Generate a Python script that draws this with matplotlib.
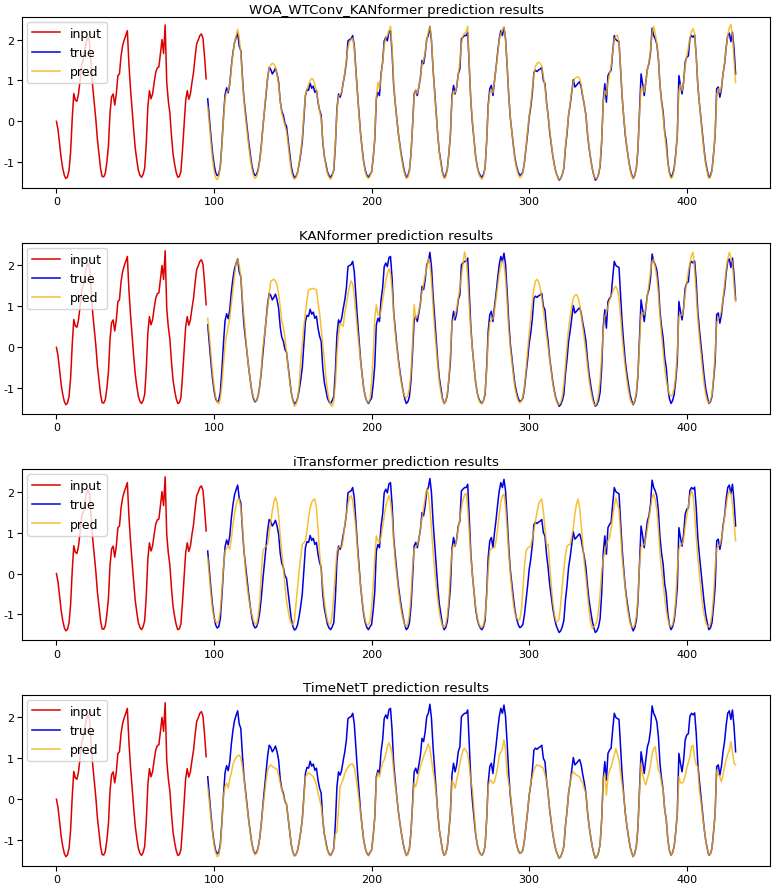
import numpy as np
import matplotlib
matplotlib.use("Agg")
import matplotlib.pyplot as plt

plt.rcParams["axes.unicode_minus"] = False

# values, one row per 24-step cycle
input_vals = [
    0.00, -0.20, -0.55, -0.90, -1.15, -1.32, -1.40, -1.36, -1.20, -0.75, 0.05, 0.68, 0.52, 0.49, 0.67, 1.00, 1.40, 1.50, 1.75, 1.95, 2.05, 1.95, 1.40, 0.85,
    0.45, 0.05, -0.45, -0.80, -1.15, -1.35, -1.36, -1.28, -1.00, -0.60, 0.20, 0.60, 0.67, 0.40, 0.67, 1.12, 1.16, 1.60, 1.85, 1.99, 2.10, 2.22, 1.40, 0.80,
    0.30, -0.20, -0.65, -0.95, -1.20, -1.32, -1.37, -1.30, -1.15, -0.55, 0.35, 0.75, 0.55, 0.67, 0.95, 1.20, 1.31, 1.33, 1.66, 2.00, 1.66, 2.36, 0.95, 0.50,
    0.20, -0.35, -0.80, -1.05, -1.25, -1.37, -1.35, -1.23, -0.70, -0.10, 0.50, 0.75, 0.54, 0.67, 0.95, 1.20, 1.58, 1.90, 1.99, 2.10, 2.14, 2.03, 1.58, 1.04,
]

true_vals = [
    0.55, 0.10, -0.35, -0.75, -1.05, -1.25, -1.33, -1.30, -1.10, -0.55, 0.10, 0.65, 0.82, 0.70, 0.92, 1.35, 1.68, 1.92, 2.05, 2.16, 1.84, 1.73, 1.10, 0.55,
    0.20, -0.15, -0.50, -0.80, -1.07, -1.25, -1.33, -1.30, -1.18, -0.95, -0.60, -0.15, 0.25, 0.65, 1.05, 1.32, 1.27, 1.16, 1.22, 1.30, 1.16, 0.96, 0.50, 0.25,
    0.15, -0.05, -0.12, -0.45, -0.80, -1.10, -1.28, -1.38, -1.35, -1.25, -1.05, -0.80, -0.50, 0.05, 0.63, 0.78, 0.76, 0.93, 0.81, 0.86, 0.71, 0.76, 0.47, 0.27,
    0.15, -0.50, -0.85, -1.05, -1.24, -1.33, -1.37, -1.30, -1.20, -0.60, 0.30, 0.67, 0.59, 0.71, 0.95, 1.16, 1.45, 1.97, 2.00, 2.02, 2.10, 1.85, 1.28, 0.71,
    0.20, -0.30, -0.67, -1.00, -1.20, -1.32, -1.37, -1.30, -1.24, -0.90, -0.45, 0.55, 0.71, 0.63, 1.16, 1.45, 1.97, 2.06, 1.97, 2.19, 2.22, 1.69, 0.88, 0.45,
    0.06, -0.30, -0.59, -0.85, -1.07, -1.25, -1.37, -1.33, -1.20, -0.80, -0.10, 0.67, 0.76, 0.63, 0.84, 1.08, 1.49, 1.41, 1.65, 2.02, 2.10, 2.32, 1.97, 1.28,
    0.75, 0.20, -0.34, -0.75, -1.00, -1.25, -1.37, -1.32, -1.18, -0.80, -0.34, 0.60, 0.88, 0.67, 0.84, 1.16, 1.28, 2.02, 2.06, 2.10, 2.10, 2.18, 1.30, 0.47,
    -0.05, -0.45, -0.85, -1.10, -1.25, -1.33, -1.37, -1.30, -1.15, -0.50, 0.40, 0.80, 0.88, 0.63, 1.00, 1.32, 1.69, 2.02, 2.22, 2.10, 2.30, 2.02, 1.37, 0.65,
    0.10, -0.25, -0.60, -0.91, -1.10, -1.24, -1.32, -1.30, -1.24, -1.00, -0.65, -0.30, 0.10, 0.35, 0.70, 1.20, 1.25, 1.22, 1.26, 1.28, 1.32, 1.00, 0.92, 0.47,
    0.15, -0.26, -0.55, -0.85, -1.07, -1.25, -1.35, -1.44, -1.40, -1.30, -1.15, -0.65, -0.30, 0.15, 0.40, 0.71, 1.02, 0.84, 0.88, 0.93, 0.97, 0.84, 0.60, 0.40,
    0.15, -0.30, -0.65, -0.91, -1.15, -1.32, -1.44, -1.40, -1.30, -1.10, -0.50, 0.50, 0.92, 0.47, 1.12, 1.20, 1.25, 1.70, 2.10, 2.00, 1.97, 1.95, 1.28, 0.60,
    0.10, -0.34, -0.65, -0.91, -1.15, -1.30, -1.40, -1.32, -1.15, -0.70, 0.20, 1.16, 0.92, 0.63, 0.96, 1.28, 1.41, 1.69, 2.28, 2.10, 2.02, 1.89, 1.53, 0.88,
    0.50, 0.23, -0.25, -0.50, -0.99, -1.25, -1.37, -1.30, -1.15, -0.80, -0.34, 1.12, 0.88, 0.67, 0.96, 1.45, 1.57, 1.60, 2.03, 2.10, 2.06, 2.11, 1.61, 0.88,
    0.45, 0.06, -0.35, -0.70, -1.00, -1.20, -1.37, -1.33, -1.20, -0.80, -0.34, 0.80, 0.84, 0.59, 0.80, 1.16, 1.41, 1.81, 2.10, 2.16, 1.95, 2.18, 1.77, 1.16,
]

woa_pred = [
    0.35, -0.05, -0.50, -0.90, -1.20, -1.38, -1.43, -1.36, -1.12, -0.60, 0.05, 0.55, 0.72, 0.75, 0.92, 1.30, 1.65, 1.92, 2.10, 2.25, 2.05, 1.65, 1.05, 0.50,
    0.10, -0.25, -0.60, -0.90, -1.15, -1.32, -1.40, -1.36, -1.22, -0.98, -0.62, -0.15, 0.28, 0.68, 1.05, 1.30, 1.38, 1.42, 1.40, 1.32, 1.15, 0.90, 0.50, 0.20,
    0.05, -0.10, -0.25, -0.55, -0.90, -1.20, -1.36, -1.42, -1.38, -1.25, -1.02, -0.75, -0.40, 0.15, 0.62, 0.80, 0.90, 1.00, 1.05, 1.02, 0.90, 0.75, 0.50, 0.25,
    0.05, -0.45, -0.85, -1.10, -1.28, -1.38, -1.42, -1.35, -1.15, -0.55, 0.25, 0.62, 0.65, 0.72, 0.95, 1.20, 1.50, 1.80, 1.95, 2.00, 2.04, 1.80, 1.25, 0.70,
    0.15, -0.30, -0.70, -1.02, -1.25, -1.36, -1.40, -1.35, -1.22, -0.90, -0.40, 0.60, 0.95, 0.80, 1.10, 1.45, 1.85, 2.05, 2.10, 2.22, 2.33, 1.80, 0.95, 0.45,
    0.05, -0.30, -0.62, -0.90, -1.12, -1.30, -1.40, -1.38, -1.22, -0.80, -0.10, 0.62, 0.75, 0.68, 0.85, 1.10, 1.40, 1.50, 1.70, 2.00, 2.20, 2.33, 2.00, 1.30,
    0.70, 0.15, -0.35, -0.78, -1.05, -1.28, -1.40, -1.38, -1.20, -0.80, -0.30, 0.55, 0.75, 0.70, 0.85, 1.15, 1.45, 1.90, 2.10, 2.15, 2.20, 2.33, 1.35, 0.50,
    0.00, -0.45, -0.85, -1.12, -1.28, -1.38, -1.42, -1.35, -1.15, -0.50, 0.35, 0.70, 0.78, 0.70, 0.98, 1.30, 1.65, 1.98, 2.15, 2.25, 2.31, 2.00, 1.40, 0.65,
    0.10, -0.25, -0.62, -0.95, -1.15, -1.30, -1.38, -1.36, -1.25, -1.00, -0.62, -0.25, 0.15, 0.42, 0.80, 1.15, 1.35, 1.42, 1.45, 1.42, 1.35, 1.10, 0.85, 0.45,
    0.12, -0.22, -0.55, -0.85, -1.08, -1.25, -1.36, -1.42, -1.40, -1.30, -1.12, -0.65, -0.25, 0.15, 0.45, 0.75, 0.95, 1.05, 1.08, 1.09, 1.05, 0.90, 0.62, 0.40,
    0.15, -0.28, -0.62, -0.90, -1.15, -1.32, -1.40, -1.40, -1.30, -1.05, -0.45, 0.45, 0.75, 0.65, 0.95, 1.15, 1.35, 1.70, 2.00, 2.08, 2.11, 1.95, 1.30, 0.60,
    0.12, -0.30, -0.65, -0.92, -1.18, -1.33, -1.40, -1.35, -1.15, -0.70, 0.15, 0.80, 0.85, 0.72, 0.95, 1.25, 1.45, 1.75, 2.15, 2.33, 2.15, 1.90, 1.55, 0.90,
    0.45, 0.15, -0.30, -0.65, -1.02, -1.28, -1.40, -1.36, -1.20, -0.85, -0.30, 0.75, 0.90, 0.75, 0.95, 1.35, 1.60, 1.80, 2.05, 2.20, 2.27, 2.15, 1.60, 0.90,
    0.45, 0.05, -0.38, -0.75, -1.05, -1.25, -1.40, -1.38, -1.22, -0.82, -0.30, 0.65, 0.80, 0.70, 0.85, 1.15, 1.45, 1.80, 2.10, 2.30, 2.37, 2.10, 1.50, 0.95,
]

kanformer_pred = [
    0.71, 0.30, -0.15, -0.60, -0.95, -1.20, -1.33, -1.38, -1.25, -0.90, -0.40, 0.05, 0.30, 0.50, 0.72, 1.05, 1.40, 1.75, 2.05, 2.15, 2.00, 1.74, 1.20, 0.75,
    0.30, -0.15, -0.50, -0.80, -1.05, -1.22, -1.30, -1.31, -1.20, -0.95, -0.55, 0.00, 0.30, 0.65, 0.95, 1.30, 1.62, 1.64, 1.66, 1.62, 1.53, 1.30, 1.00, 0.65,
    0.50, 0.25, -0.10, -0.50, -0.82, -1.10, -1.30, -1.44, -1.40, -1.25, -0.95, -0.32, 0.10, 0.50, 0.85, 1.16, 1.41, 1.42, 1.43, 1.44, 1.42, 1.41, 1.10, 0.83,
    0.45, 0.09, -0.30, -0.73, -1.05, -1.28, -1.40, -1.44, -1.30, -0.90, -0.16, 0.30, 0.59, 0.55, 0.52, 0.85, 1.05, 1.30, 1.49, 1.62, 1.55, 1.25, 0.85, 0.42,
    0.05, -0.35, -0.70, -1.00, -1.20, -1.32, -1.35, -1.25, -0.85, -0.20, 0.70, 1.04, 0.80, 0.75, 0.90, 1.15, 1.40, 1.62, 1.80, 1.92, 1.80, 1.40, 0.85, 0.35,
    0.00, -0.35, -0.65, -0.90, -1.08, -1.20, -1.23, -1.18, -1.00, -0.60, 0.10, 1.04, 0.70, 0.75, 0.90, 1.10, 1.35, 1.55, 1.75, 1.95, 2.17, 2.05, 1.60, 1.00,
    0.45, 0.00, -0.45, -0.85, -1.10, -1.28, -1.38, -1.33, -1.15, -0.75, -0.20, 0.60, 0.70, 0.78, 0.95, 1.20, 1.45, 1.75, 2.05, 2.33, 2.15, 1.70, 1.00, 0.40,
    -0.05, -0.45, -0.85, -1.10, -1.28, -1.36, -1.38, -1.30, -1.10, -0.60, 0.20, 0.60, 0.67, 0.70, 0.90, 1.20, 1.50, 1.80, 2.00, 2.11, 2.05, 1.70, 1.10, 0.45,
    0.00, -0.35, -0.70, -1.00, -1.18, -1.30, -1.36, -1.32, -1.20, -0.95, -0.55, -0.10, 0.35, 0.75, 1.10, 1.45, 1.62, 1.66, 1.60, 1.45, 1.20, 0.90, 0.60, 0.30,
    0.00, -0.30, -0.60, -0.90, -1.10, -1.28, -1.38, -1.40, -1.35, -1.20, -0.90, -0.45, 0.05, 0.45, 0.75, 1.00, 1.20, 1.27, 1.29, 1.22, 1.05, 0.80, 0.50, 0.20,
    -0.10, -0.45, -0.80, -1.05, -1.25, -1.38, -1.42, -1.35, -1.15, -0.80, -0.20, 0.40, 0.75, 0.85, 1.00, 1.15, 1.25, 1.35, 1.45, 1.49, 1.40, 1.20, 0.75, 0.25,
    -0.15, -0.50, -0.80, -1.05, -1.25, -1.36, -1.38, -1.30, -1.10, -0.65, 0.10, 0.80, 0.85, 0.80, 0.95, 1.25, 1.55, 1.85, 2.10, 2.15, 1.95, 1.70, 1.30, 0.75,
    0.30, -0.10, -0.50, -0.80, -1.00, -1.15, -1.19, -1.15, -1.00, -0.70, -0.10, 0.75, 0.80, 0.78, 0.95, 1.30, 1.60, 1.85, 2.05, 2.25, 2.32, 1.90, 1.30, 0.70,
    0.25, -0.15, -0.55, -0.90, -1.15, -1.30, -1.36, -1.30, -1.15, -0.75, -0.15, 0.60, 0.70, 0.75, 0.90, 1.20, 1.55, 1.90, 2.15, 2.32, 2.20, 2.05, 1.50, 1.12,
]

itransformer_pred = [
    0.39, -0.05, -0.50, -0.85, -1.08, -1.18, -1.21, -1.15, -0.90, -0.40, 0.15, 0.55, 0.62, 0.67, 0.59, 0.85, 1.20, 1.45, 1.68, 1.80, 1.82, 1.60, 1.20, 0.60,
    0.06, -0.30, -0.60, -0.82, -1.00, -1.15, -1.22, -1.25, -1.05, -0.68, 0.00, 0.55, 0.63, 0.67, 0.71, 1.00, 1.25, 1.53, 1.75, 1.86, 1.74, 1.40, 0.95, 0.50,
    0.15, -0.30, -0.65, -0.90, -1.10, -1.22, -1.25, -1.15, -0.76, -0.35, 0.06, 0.40, 0.71, 0.75, 0.80, 1.05, 1.37, 1.60, 1.74, 1.80, 1.82, 1.61, 1.10, 0.50,
    0.10, -0.30, -0.68, -0.95, -1.15, -1.25, -1.22, -1.00, -0.52, 0.00, 0.55, 0.62, 0.67, 0.63, 0.85, 1.20, 1.45, 1.70, 1.85, 1.90, 1.78, 1.45, 1.12, 0.60,
    0.10, -0.30, -0.65, -0.95, -1.15, -1.25, -1.25, -1.15, -0.85, -0.30, 0.40, 0.92, 0.80, 0.75, 0.90, 1.15, 1.40, 1.65, 1.80, 1.90, 1.75, 1.40, 0.80, 0.30,
    -0.05, -0.40, -0.70, -0.95, -1.12, -1.25, -1.30, -1.22, -1.00, -0.55, 0.15, 0.60, 0.65, 0.70, 0.85, 1.10, 1.35, 1.60, 1.85, 2.07, 1.95, 1.60, 1.10, 0.55,
    0.10, -0.30, -0.65, -0.95, -1.15, -1.28, -1.32, -1.25, -1.05, -0.65, 0.05, 0.55, 0.70, 0.68, 0.85, 1.10, 1.35, 1.60, 1.80, 1.92, 1.96, 1.60, 1.00, 0.40,
    -0.05, -0.45, -0.80, -1.05, -1.22, -1.30, -1.32, -1.25, -1.05, -0.60, 0.10, 0.55, 0.62, 0.63, 0.63, 0.80, 1.10, 1.45, 1.75, 1.90, 1.94, 1.65, 1.10, 0.50,
    0.00, -0.40, -0.75, -0.98, -1.08, -1.13, -1.13, -0.90, -0.40, 0.20, 0.55, 0.62, 0.65, 0.67, 0.85, 1.05, 1.29, 1.50, 1.70, 1.78, 1.82, 1.53, 1.10, 0.71,
    0.71, 0.20, -0.27, -0.70, -1.00, -1.17, -1.17, -1.10, -0.75, -0.30, 0.10, 0.45, 0.67, 0.70, 0.71, 0.90, 1.12, 1.45, 1.70, 1.82, 1.61, 1.20, 0.71, 0.25,
    -0.10, -0.50, -0.90, -1.20, -1.34, -1.30, -1.25, -1.15, -0.90, -0.50, 0.05, 0.35, 0.55, 0.70, 0.80, 0.88, 1.10, 1.40, 1.65, 1.86, 1.70, 1.57, 1.00, 0.40,
    0.00, -0.40, -0.75, -1.00, -1.20, -1.30, -1.32, -1.25, -1.05, -0.60, 0.20, 0.65, 0.71, 0.70, 0.85, 1.10, 1.35, 1.60, 1.85, 1.94, 1.80, 1.55, 1.10, 0.50,
    0.10, -0.25, -0.60, -0.90, -1.12, -1.25, -1.30, -1.25, -1.05, -0.65, 0.10, 0.60, 0.70, 0.72, 0.85, 1.15, 1.40, 1.65, 1.90, 2.02, 1.90, 1.45, 0.90, 0.40,
    0.00, -0.40, -0.75, -1.00, -1.18, -1.28, -1.30, -1.22, -1.00, -0.55, 0.15, 0.60, 0.68, 0.70, 0.85, 1.10, 1.40, 1.65, 1.90, 2.02, 1.95, 1.70, 1.25, 0.80,
]

timenett_pred = [
    0.30, -0.05, -0.45, -0.80, -1.10, -1.30, -1.40, -1.38, -1.15, -0.60, 0.10, 0.30, 0.39, 0.27, 0.50, 0.65, 0.85, 0.95, 1.02, 1.06, 1.08, 1.02, 0.80, 0.50,
    0.15, -0.20, -0.52, -0.82, -1.08, -1.26, -1.36, -1.32, -1.18, -0.95, -0.60, -0.20, 0.10, 0.45, 0.71, 0.80, 0.84, 0.80, 0.78, 0.75, 0.73, 0.59, 0.40, 0.23,
    0.10, -0.05, -0.12, -0.45, -0.80, -1.10, -1.28, -1.38, -1.35, -1.25, -1.05, -0.80, -0.50, 0.00, 0.55, 0.60, 0.65, 0.62, 0.58, 0.55, 0.47, 0.35, 0.15, 0.00,
    -0.18, -0.50, -0.85, -1.08, -1.25, -1.35, -1.38, -1.30, -1.20, -0.85, -0.80, -0.26, 0.31, 0.39, 0.50, 0.63, 0.72, 0.78, 0.84, 0.86, 0.86, 0.78, 0.55, 0.30,
    -0.02, -0.35, -0.67, -1.00, -1.20, -1.32, -1.38, -1.32, -1.24, -0.90, -0.45, 0.50, 0.65, 0.55, 0.75, 0.90, 0.96, 1.10, 1.28, 1.38, 1.28, 1.12, 0.71, 0.35,
    0.06, -0.30, -0.59, -0.85, -1.07, -1.25, -1.38, -1.33, -1.20, -0.80, -0.15, 0.40, 0.31, 0.47, 0.65, 0.80, 0.92, 1.04, 1.15, 1.24, 1.35, 1.24, 0.96, 0.70,
    0.47, 0.10, -0.34, -0.75, -1.00, -1.25, -1.37, -1.32, -1.18, -0.80, -0.34, 0.45, 0.39, 0.27, 0.47, 0.65, 0.88, 1.05, 1.20, 1.24, 1.18, 1.12, 0.80, 0.45,
    0.23, -0.30, -0.80, -1.10, -1.25, -1.33, -1.37, -1.30, -1.15, -0.50, 0.30, 0.47, 0.45, 0.39, 0.43, 0.60, 0.80, 1.08, 1.15, 1.24, 1.45, 1.20, 0.63, 0.40,
    0.20, -0.20, -0.60, -0.91, -1.10, -1.24, -1.32, -1.30, -1.24, -1.00, -0.65, -0.30, 0.10, 0.39, 0.55, 0.71, 0.80, 0.84, 0.82, 0.81, 0.78, 0.76, 0.60, 0.47,
    0.15, -0.26, -0.55, -0.85, -1.07, -1.25, -1.35, -1.44, -1.40, -1.30, -1.15, -0.65, -0.30, 0.15, 0.40, 0.60, 0.67, 0.63, 0.59, 0.57, 0.55, 0.45, 0.39, 0.25,
    0.15, -0.30, -0.65, -0.91, -1.15, -1.32, -1.44, -1.40, -1.30, -1.10, -0.50, 0.50, 0.63, 0.10, 0.55, 0.70, 0.80, 0.95, 1.10, 1.24, 1.10, 0.96, 0.63, 0.35,
    0.10, -0.34, -0.65, -0.91, -1.15, -1.30, -1.40, -1.32, -1.15, -0.70, 0.15, 0.88, 0.60, 0.45, 0.35, 0.50, 0.65, 0.84, 1.10, 1.24, 1.28, 1.00, 0.71, 0.63,
    0.40, 0.23, -0.25, -0.50, -0.99, -1.25, -1.37, -1.30, -1.15, -0.80, -0.34, 0.55, 0.40, 0.40, 0.43, 0.60, 0.76, 0.90, 1.04, 1.28, 1.32, 1.00, 0.84, 0.80,
    0.23, -0.05, -0.40, -0.70, -1.00, -1.20, -1.37, -1.33, -1.20, -0.80, -0.34, 0.71, 0.60, 0.55, 0.43, 0.60, 0.80, 0.96, 1.10, 1.20, 1.41, 1.16, 0.88, 0.84,
]

model_names = ["WOA_WTConv_KANformer", "KANformer", "iTransformer", "TimeNetT"]
model_preds = [woa_pred, kanformer_pred, itransformer_pred, timenett_pred]

x_in = np.arange(len(input_vals))
x_out = np.arange(len(input_vals), len(input_vals) + len(true_vals))

fig = plt.figure(figsize=(7.75, 8.87), dpi=100)
bottoms = [0.787, 0.532, 0.277, 0.0225]

for name, pred, b in zip(model_names, model_preds, bottoms):
    ax = fig.add_axes([0.029, b, 0.964, 0.193])
    ax.plot(x_in, input_vals, color="#dd0000", lw=1.1, label="input")
    ax.plot(x_out, true_vals, color="#0000e0", lw=1.1, label="true")
    ax.plot(x_out, pred, color="#f5b000", lw=1.1, alpha=0.8, label="pred")
    ax.set_title(f"{name} prediction results", fontsize=9.6, pad=3)
    ax.set_xticks([0, 100, 200, 300, 400])
    ax.set_yticks([-1, 0, 1, 2])
    ax.tick_params(labelsize=8, pad=2.5)
    ax.legend(loc="upper left", fontsize=9, borderaxespad=0.4, handlelength=2.2)

fig.savefig("out.png", dpi=100)
